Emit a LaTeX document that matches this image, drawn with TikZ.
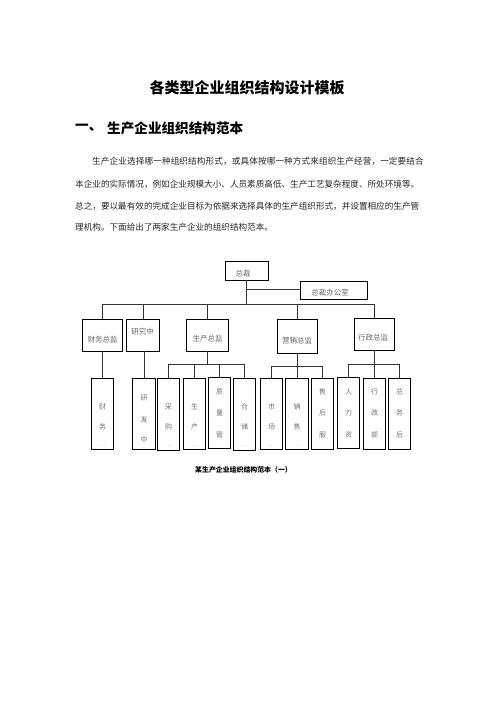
\documentclass[tikz,border=0pt]{standalone}
\usepackage{fontspec}
\newfontfamily\cjk{Noto Sans CJK SC}
\begin{document}
\begin{tikzpicture}[x=1pt,y=-1pt,
  box/.style={draw=black, line width=0.8pt, inner sep=0pt},
  l3box/.style={box, minimum width=22.5pt, minimum height=71pt},
  l2box/.style={box, minimum width=40pt, minimum height=32pt},
  conn/.style={draw=black!80, line width=0.8pt},
  ch/.style={text=black!55, font=\cjk\fontsize{7}{7}\selectfont, inner sep=0pt},
  l2txt/.style={text=black!60, font=\cjk\fontsize{7.5}{7.5}\selectfont, inner sep=0pt},
  para/.style={anchor=west, inner sep=0pt, text=black!85, font=\cjk\fontsize{8.6}{8.6}\selectfont}]
\fill[white] (0,0) rectangle (496,702);
\useasboundingbox (0,0) rectangle (496,702);

% title and heading
\node[inner sep=0pt, font=\cjk\bfseries\fontsize{15}{15}\selectfont] (title) at (247,88) {各类型企业组织结构设计模板};
\node[inner sep=0pt, anchor=west, font=\cjk\bfseries\fontsize{13.6}{13.6}\selectfont] (hnum) at (75,128) {一、};
\node[inner sep=0pt, anchor=west, font=\cjk\bfseries\fontsize{13.6}{13.6}\selectfont] (htext) at (107,128) {生产企业组织结构范本};

% paragraph
\node[para] (p1) at (92,161) {\addfontfeature{LetterSpace=1.5}生产企业选择哪一种组织结构形式，或具体按哪一种方式来组织生产经营，一定要结合};
\node[para] (p2) at (75,184) {本企业的实际情况，例如企业规模大小、人员素质高低、生产工艺复杂程度、所处环境等。};
\node[para] (p3) at (75,206) {总之，要以最有效的完成企业目标为依据来选择具体的生产组织形式，并设置相应的生产管};
\node[para] (p4) at (75,227) {理机构。下面给出了两家生产企业的组织结构范本。};

% level 1
\node[box, minimum width=43pt, minimum height=19pt] (zc) at (246.5,270.5) {};
\node[l2txt] (zct) at (243,274) {总裁};
\node[box, minimum width=67pt, minimum height=18pt] (zcb) at (333.5,290) {};
\node[l2txt] (zcbt) at (330,293) {总裁办公室};

% level 2
\node[l2box] (cw) at (102.5,335) {};
\node[l2box, minimum width=33pt] (yj) at (143,335) {};
\node[l2box, minimum width=42pt] (sc) at (207.5,335) {};
\node[l2box, minimum height=34pt] (yx) at (297,336) {};
\node[l2box] (xz) at (374.5,334) {};
\node[l2txt] at (102.5,340) {财务总监};
\node[l2txt] at (142.5,332) {研究中};
\node[l2txt] at (207.5,339) {生产总监};
\node[l2txt] at (297,341) {营销总监};
\node[l2txt] at (373,338) {行政总监};

% level 3
\node[l3box] (l1) at (102.5,413.5) {};
\node[l3box] (l2) at (144,413.5) {};
\node[l3box, minimum height=72pt] (l3) at (168.5,414) {};
\node[l3box] (l4) at (194.5,413.5) {};
\node[l3box] (l5) at (219.5,413) {};
\node[l3box, minimum height=72pt] (l6) at (244.5,414) {};
\node[l3box] (l7) at (271.5,413.5) {};
\node[l3box] (l8) at (297,413.5) {};
\node[l3box] (l9) at (322.5,413.5) {};
\node[l3box] (l10) at (348.5,413) {};
\node[l3box] (l11) at (374.5,413.5) {};
\node[l3box] (l12) at (399.5,413.5) {};

\newcommand\myvch[3]{\node[ch] at (#1.north |- 0,#2) {#3};}
\newcommand\myvdots[2]{\node[ch, font=\fontsize{5}{5}\selectfont] at (#1.north |- 0,#2) {...};}
\myvch{l1}{407}{财}\myvch{l1}{427}{务}\myvdots{l1}{446}
\myvch{l2}{398}{研}\myvch{l2}{420}{发}\myvch{l2}{440}{中}
\myvch{l3}{407}{采}\myvch{l3}{427}{购}\myvdots{l3}{446}
\myvch{l4}{407}{生}\myvch{l4}{427}{产}\myvdots{l4}{446}
\myvch{l5}{392}{质}\myvch{l5}{413}{量}\myvch{l5}{435}{管}
\myvch{l6}{407}{仓}\myvch{l6}{427}{储}\myvdots{l6}{446}
\myvch{l7}{407}{市}\myvch{l7}{427}{场}\myvdots{l7}{446}
\myvch{l8}{407}{销}\myvch{l8}{427}{售}\myvdots{l8}{446}
\myvch{l9}{392}{售}\myvch{l9}{413}{后}\myvch{l9}{435}{服}
\myvch{l10}{392}{人}\myvch{l10}{413}{力}\myvch{l10}{435}{资}
\myvch{l11}{392}{行}\myvch{l11}{413}{政}\myvch{l11}{435}{部}
\myvch{l12}{392}{总}\myvch{l12}{413}{务}\myvch{l12}{435}{后}

% connectors
\coordinate (bus) at (246.5,304);
\coordinate (bus2) at (246.5,289);
\draw[conn] (zc.south) -- (bus);
\draw[conn] (bus2) -- (zcb.west |- bus2);
\draw[conn] (bus) -| (cw.north);
\draw[conn] (bus) -| (yj.north);
\draw[conn] (bus) -| (sc.north);
\draw[conn] (bus) -| (yx.north);
\draw[conn] (bus) -| (xz.north);

\draw[conn] (cw.south) -- (l1.north);
\draw[conn] (l2.north |- yj.south) -- (l2.north);

\coordinate (sb) at (207.5,364);
\draw[conn] (sc.south) -- (sb);
\draw[conn] (sb) -| (l3.north);
\draw[conn] (sb) -| (l4.north);
\draw[conn] (sb) -| (l5.north);
\draw[conn] (sb) -| (l6.north);

\coordinate (yb) at (297,366);
\draw[conn] (yx.south) -- (yb);
\draw[conn] (yb) -| (l7.north);
\draw[conn] (yb) -- (l8.north);
\draw[conn] (yb) -| (l9.north);

\coordinate (xb) at (374.5,364);
\draw[conn] (xz.south) -- (xb);
\draw[conn] (xb) -| (l10.north);
\draw[conn] (xb) -- (l11.north);
\draw[conn] (xb) -| (l12.north);

% caption
\node[inner sep=0pt, font=\cjk\bfseries\fontsize{6.9}{6.9}\selectfont] (cap) at (243.5,470) {某生产企业组织结构范本（一）};
\end{tikzpicture}
\end{document}
